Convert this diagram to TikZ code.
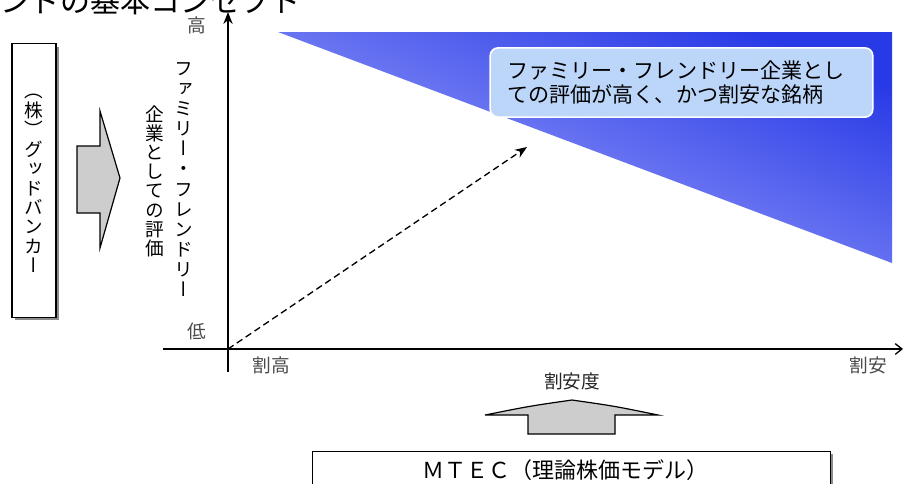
\documentclass[tikz,border=0pt]{standalone}
\usepackage{fontspec}
\setmainfont{Noto Sans CJK JP}
\newfontfamily\vjp[RawFeature=+vert]{Noto Sans CJK JP}
\usetikzlibrary{arrows.meta,shadows}
\definecolor{blueD}{RGB}{40,58,230}
\definecolor{blueL}{RGB}{165,170,252}
\definecolor{callfill}{RGB}{188,214,250}
\definecolor{arrgray}{RGB}{205,205,205}
\definecolor{lblgray}{RGB}{75,75,75}
\definecolor{shgray}{RGB}{140,140,140}
\tikzset{
  vtext/.style={inner sep=0pt, align=center, anchor=north},
  lbl/.style={inner sep=0pt, text=lblgray, font=\fontsize{14}{14}\selectfont},
  boxed/.style={draw=black, line width=0.9pt, fill=white, inner sep=0pt,
    drop shadow={shadow xshift=2.2pt, shadow yshift=-2.2pt, fill=shgray, opacity=1}},
  blockarrow/.style={draw=black, line width=0.9pt, fill=arrgray, line join=miter},
  axis/.style={draw=black, line width=1pt},
}
\begin{document}
\begin{tikzpicture}[x=0.75pt,y=-0.75pt]
\useasboundingbox (0,0) rectangle (905,483);
\clip (0,0) rectangle (905,483);
\fill[white] (0,0) rectangle (905,483);

% clipped title at the top
\node[anchor=base west, inner sep=0pt, font=\fontsize{22.5}{22.5}\selectfont] (title) at (0,12) {ンドの基本コンセプト};

% blue triangle
\shade[top color=blueD, bottom color=blueL, shading angle=-22] (278,32) -- (892,32) -- (892,263) -- cycle;

% callout
\node[draw=white, line width=1.2pt, fill=callfill, rounded corners=6pt,
      minimum width=287pt, minimum height=52pt, inner xsep=13pt,
      text width=261pt, align=left,
      font=\fontsize{15.8}{18.5}\selectfont] (call) at (681.5,82.5)
  {ファミリー・フレンドリー企業とし\\ての評価が高く、かつ割安な銘柄};

% left box with vertical text
\node[boxed, minimum width=33pt, minimum height=205pt] (gb) at (34,180.5) {};
\node[vtext, font=\vjp\fontsize{14}{14.6}\selectfont] (gbt) at (34,94)
  {（\\株\\）\\グ\\ッ\\ド\\バ\\ン\\カ\\ー};

% left block arrow
\draw[blockarrow] (77,146) -- (100,146) -- (100,111) -- (120,178) -- (100,248) -- (100,213) -- (77,213) -- cycle;

% vertical axis title
\node[vtext, font=\vjp\fontsize{14}{15.1}\selectfont] (yt1) at (184,62)
  {フ\\ァ\\ミ\\リ\\ー\\・\\フ\\レ\\ン\\ド\\リ\\ー};
\node[vtext, font=\vjp\fontsize{14}{14.4}\selectfont] (yt2) at (155,105)
  {企\\業\\と\\し\\て\\の\\評\\価};

% axes
\coordinate (O) at (228,349);
\coordinate (ytop) at (228,12);
\coordinate (ybot) at (228,372);
\coordinate (xl) at (163,349);
\coordinate (xr) at (903,349);
\draw[axis, -{Stealth[length=9pt,width=7pt]}] (ybot) -- (ytop);
\draw[axis, -{Straight Barb[length=5pt,width=8pt]}] (xl) -- (xr);

% axis labels
\node[lbl] (hi) at (197,25) {高};
\node[lbl] (lo) at (197,331) {低};
\node[lbl] (wt) at (271,365) {割高};
\node[lbl] (wy) at (868,365) {割安};
\node[lbl, text=black!85] (wyd) at (572,381) {割安度};

% dashed arrow
\coordinate (dtip) at (527,147);
\draw[dashed, line width=1pt, dash pattern=on 5pt off 3pt, -{Stealth[length=9pt,width=7pt]}] (O) -- (dtip);

% up block arrow
\draw[blockarrow] (528,434) -- (528,415) -- (485,415) .. controls (530,406) .. (572,400) .. controls (614,406) .. (658,415) -- (615,415) -- (615,434) -- cycle;

% MTEC box
\node[boxed, minimum width=388pt, minimum height=40pt] (mt) at (571.5,478) {};
\node[inner sep=0pt, font=\fontsize{16.5}{16.5}\selectfont] (mtt) at (565,470) {ＭＴＥＣ（理論株価モデル）};
\end{tikzpicture}
\end{document}
